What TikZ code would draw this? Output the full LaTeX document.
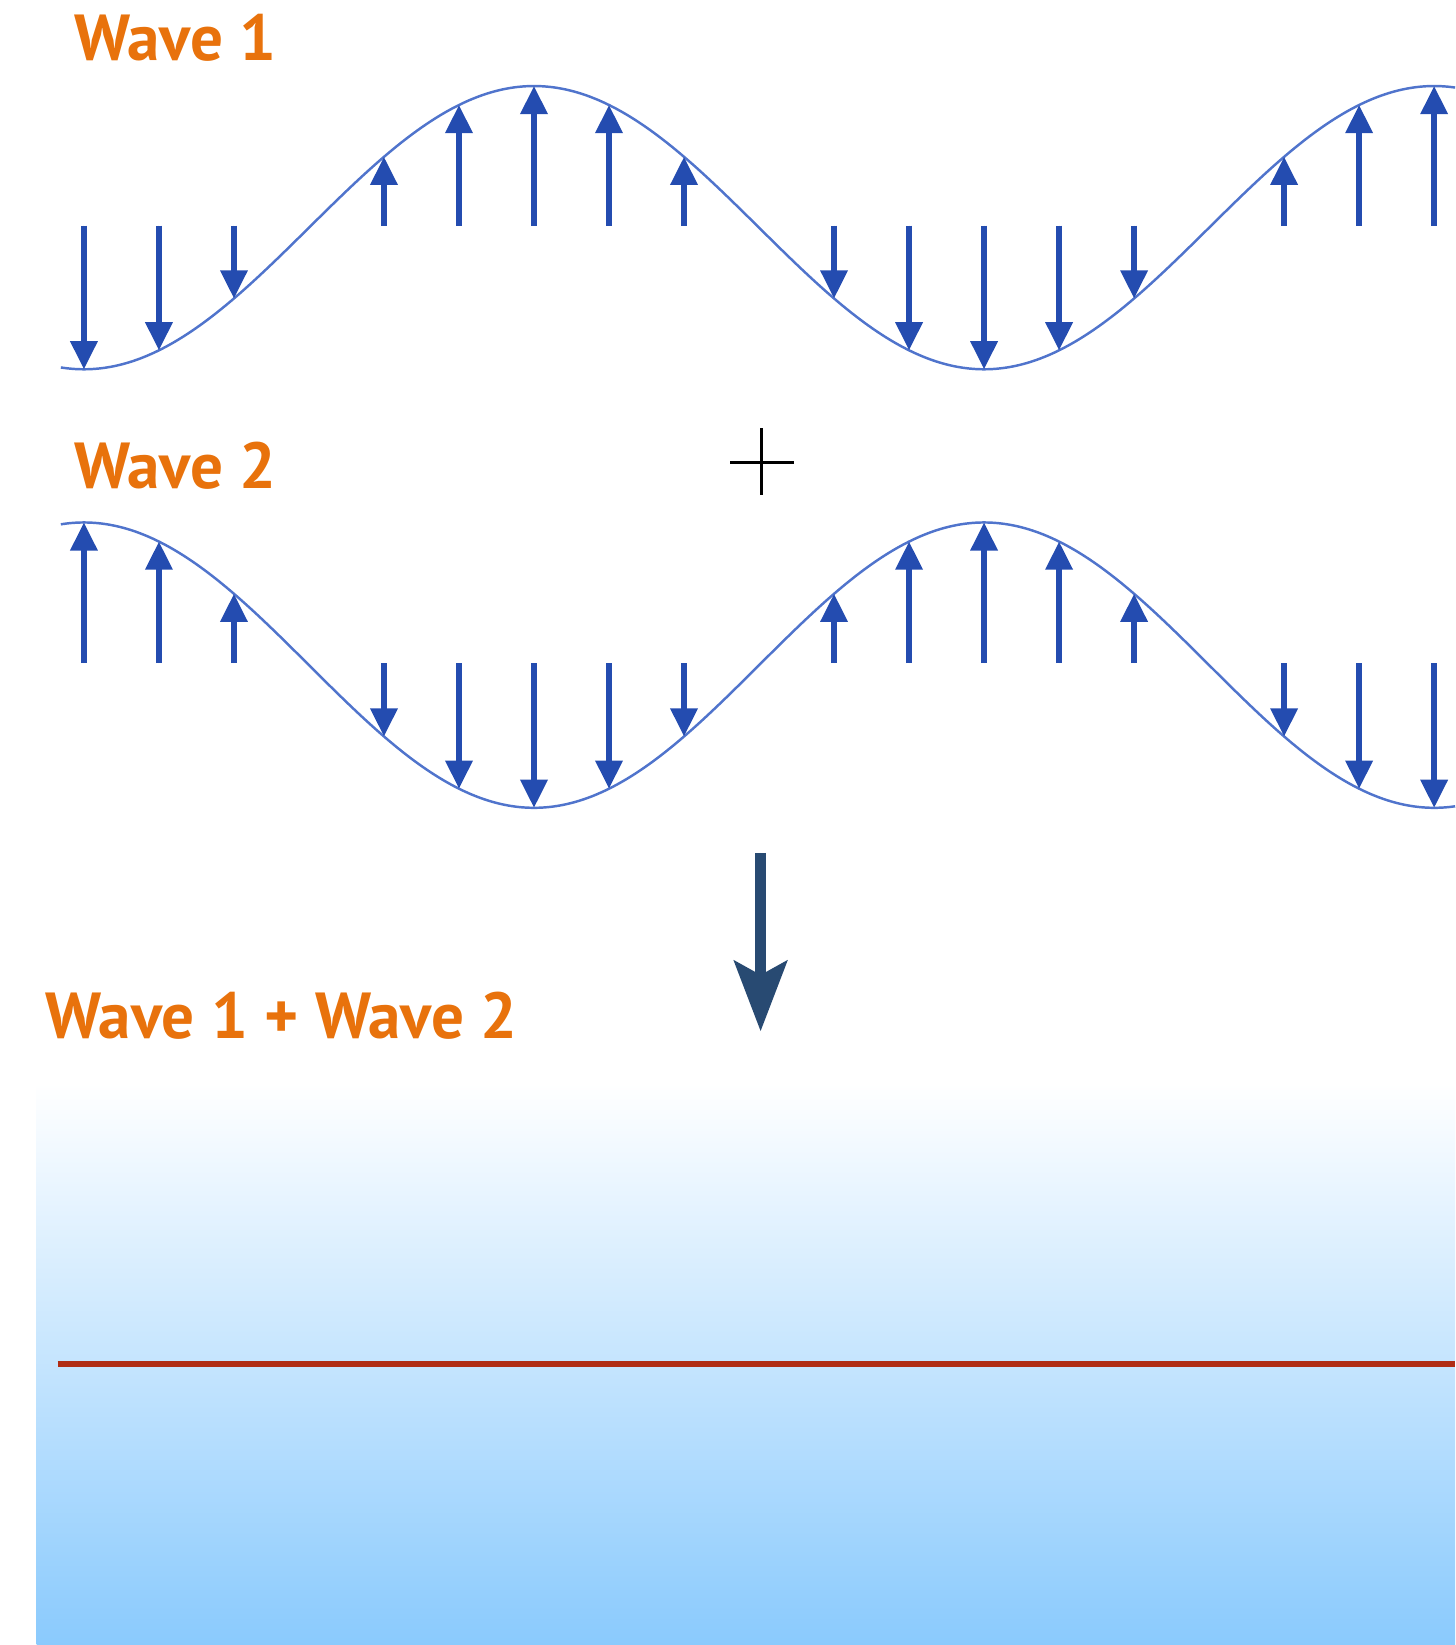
\documentclass[tikz,border=0pt]{standalone}
\usepackage{fontspec}
\setmainfont{PT Sans}
\usetikzlibrary{arrows.meta}

\definecolor{waveorange}{RGB}{232,114,12}
\definecolor{curveblue}{RGB}{80,116,204}
\definecolor{vecblue}{RGB}{36,76,176}
\definecolor{downnavy}{RGB}{40,74,114}
\definecolor{skyblue}{RGB}{138,202,253}
\definecolor{paleblue}{RGB}{210,234,252}
\definecolor{sumred}{RGB}{176,44,20}

\begin{document}
\begin{tikzpicture}[>={Triangle[length=8pt,width=7.5pt]}, x=0.01049cm, y=-0.01049cm,
    wavelabel/.style={anchor=base west, inner sep=0, text=waveorange,
                      font=\fontsize{18.5}{20}\selectfont\bfseries},
    wave/.style={draw=curveblue, line width=0.7pt},
    vec/.style={->, draw=vecblue, fill=vecblue, line width=1.6pt}]
  \useasboundingbox (0,0) rectangle (1387,1568);

  % labels
  \node (w1)  [wavelabel] at (70,58)  {Wave 1};
  \node (w2)  [wavelabel] at (70,466) {Wave 2};
  \node (sum) [wavelabel] at (43,990) {Wave 1 + Wave 2};

  % wave 1
  \draw[wave] plot[domain=58:1387, samples=240, smooth]
    (\x, {217+135*cos((\x-80)/858*360)});
  \foreach \i in {0,1,2,4,5,6,7,8,10,11,12,13,14,16,17,18}
    \draw[vec] ({80+71.5*\i},215) -- ({80+71.5*\i},{217+135*cos(30*\i)});

  % plus
  \draw[line width=1pt] (696,441) -- (757,441) (726,408) -- (726,472);

  % wave 2
  \draw[wave] plot[domain=58:1387, samples=240, smooth]
    (\x, {634-136*cos((\x-80)/858*360)});
  \foreach \i in {0,1,2,4,5,6,7,8,10,11,12,13,14,16,17,18}
    \draw[vec] ({80+71.5*\i},632) -- ({80+71.5*\i},{634-136*cos(30*\i)});

  % result
  \coordinate (top) at (725,813);
  \coordinate (tip) at (725,983);
  \draw[-{Stealth[length=20pt,width=15pt,inset=4pt]}, draw=downnavy, fill=downnavy,
        line width=3pt] (top) -- (tip);

  \shade[top color=white, middle color=paleblue, bottom color=skyblue]
    (35,1032) rectangle (1387,1568);
  \draw[sumred, line width=1.8pt] (55,1300) -- (1387,1300);
\end{tikzpicture}
\end{document}
